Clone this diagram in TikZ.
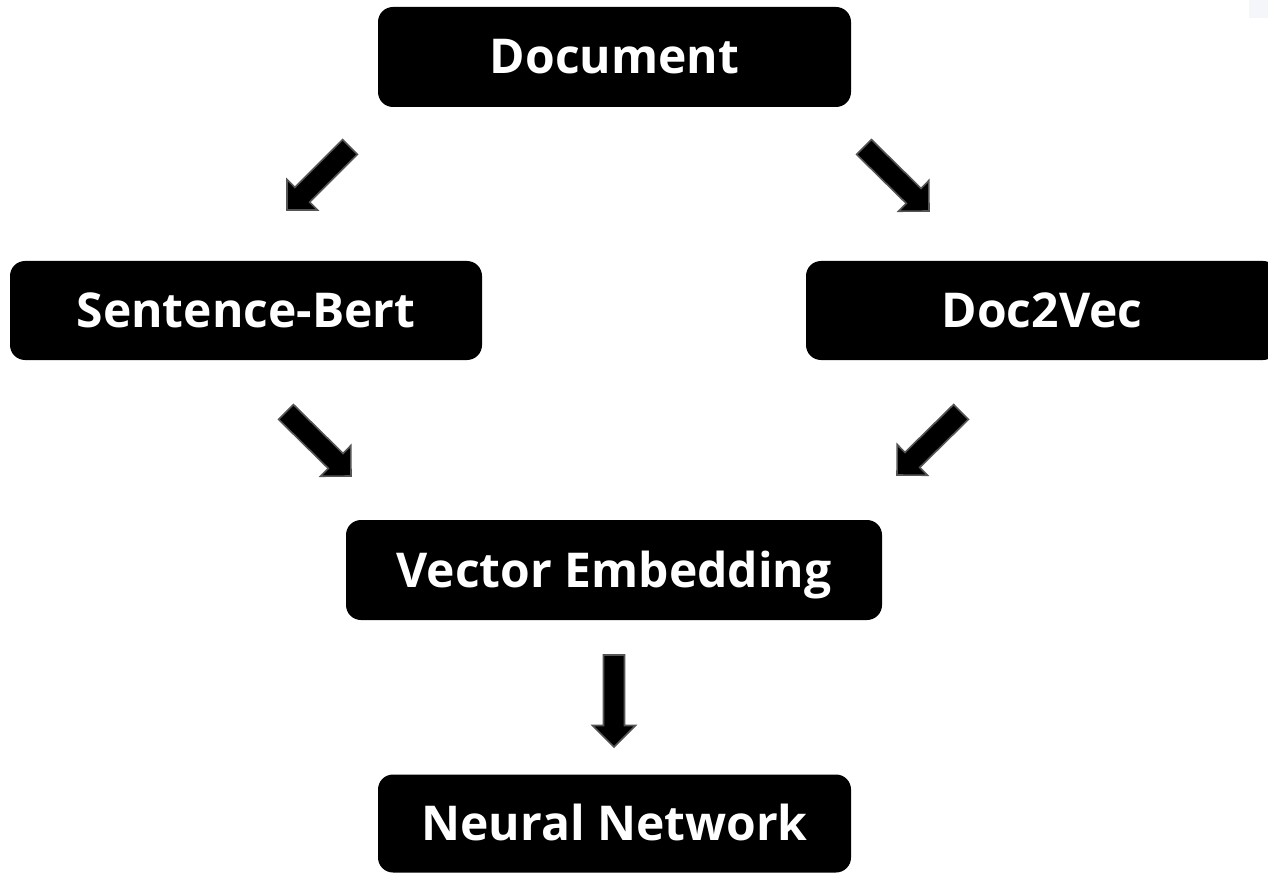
\documentclass[tikz,border=0pt]{standalone}
\usepackage{fontspec}
\setmainfont{Open Sans}
\usetikzlibrary{calc}
\definecolor{arrline}{RGB}{85,85,85}
\definecolor{faint}{RGB}{245,246,250}
\tikzset{
  box/.style={rectangle, rounded corners=15pt, fill=black, text=white,
    inner sep=0pt, font=\fontsize{48pt}{58pt}\selectfont\bfseries,
    text height=34pt, text depth=0pt},
  blockarrow/.style={fill=black, draw=arrline, line width=1.6pt, line join=miter},
}
\newcommand\blockarr[2]{%
  \coordinate (bh) at ($(#2)!21.5pt!(#1)$);
  \filldraw[blockarrow]
    ($(#1)!10.5pt!90:(#2)$) -- ($(bh)!10.5pt!90:(#2)$) -- ($(bh)!21.5pt!90:(#2)$)
    -- (#2) -- ($(bh)!21.5pt!-90:(#2)$) -- ($(bh)!10.5pt!-90:(#2)$)
    -- ($(#1)!10.5pt!-90:(#2)$) -- cycle;}
\begin{document}
\begin{tikzpicture}[x=1pt, y=-1pt]
\useasboundingbox (0,0) rectangle (1268,874);
\clip (0,0) rectangle (1268,874);
\fill[faint] (1249,0) rectangle (1268,18);

\node[box, minimum width=473pt, minimum height=100pt] (doc) at (614.5,57) {Document};
\node[box, minimum width=472pt, minimum height=99pt] (sbert) at (246,310.5) {Sentence-Bert};
\node[box, minimum width=472pt, minimum height=99pt] (d2v) at (1042,310.5) {Doc2Vec};
\node[box, minimum width=536pt, minimum height=100pt] (vec) at (614,570) {Vector Embedding};
\node[box, minimum width=473pt, minimum height=98pt] (nn) at (614.5,823.5) {Neural Network};

\coordinate (a1s) at (350,147);  \coordinate (a1t) at (287,210);
\coordinate (a2s) at (864,147);  \coordinate (a2t) at (929,211);
\coordinate (a3s) at (286,412);  \coordinate (a3t) at (351,476);
\coordinate (a4s) at (961,412);  \coordinate (a4t) at (897,475);
\coordinate (a5s) at (614,655);  \coordinate (a5t) at (614,747);
\blockarr{a1s}{a1t}
\blockarr{a2s}{a2t}
\blockarr{a3s}{a3t}
\blockarr{a4s}{a4t}
\blockarr{a5s}{a5t}
\end{tikzpicture}
\end{document}
